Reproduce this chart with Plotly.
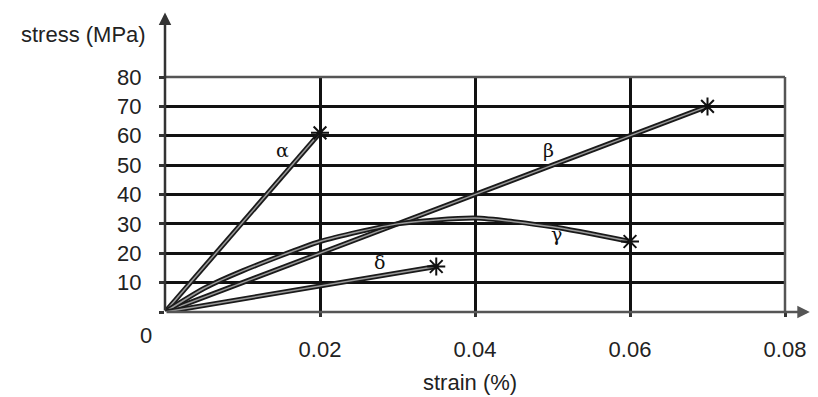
import plotly.graph_objects as go

# ---- data ----
alpha_strain = [0.0, 0.02]
alpha_stress = [0, 61]
beta_strain = [0.0, 0.02, 0.04, 0.06, 0.07]
beta_stress = [0, 20, 40, 60, 70]
gamma_strain = [0.0, 0.005, 0.01, 0.02, 0.03, 0.04, 0.05, 0.06]
gamma_stress = [0, 8, 14, 24, 30, 32, 29, 24]
delta_strain = [0.0, 0.02, 0.035]
delta_stress = [0, 8.8, 15.5]

series = [
    ("α", alpha_strain, alpha_stress, (0.0152, 55)),
    ("β", beta_strain, beta_stress, (0.0495, 55)),
    ("γ", gamma_strain, gamma_stress, (0.0505, 26.5)),
    ("δ", delta_strain, delta_stress, (0.0277, 17)),
]
x_ticks = [0.02, 0.04, 0.06, 0.08]
x_tick_labels = ["0.02", "0.04", "0.06", "0.08"]
y_ticks = [10, 20, 30, 40, 50, 60, 70, 80]
y_tick_labels = ["10", "20", "30", "40", "50", "60", "70", "80"]

fig = go.Figure()
for name, xs, ys, lab in series:
    shape = "spline" if name == "γ" else "linear"
    fig.add_trace(go.Scatter(x=xs, y=ys, mode="lines",
                             line=dict(color="#1a1a1a", width=5, shape=shape, smoothing=0.6),
                             showlegend=False, hoverinfo="skip"))
    fig.add_trace(go.Scatter(x=xs, y=ys, mode="lines",
                             line=dict(color="#9a9a9a", width=1.5, shape=shape, smoothing=0.6),
                             showlegend=False, hoverinfo="skip"))
    fig.add_trace(go.Scatter(x=[xs[-1]], y=[ys[-1]], mode="markers",
                             marker=dict(symbol="asterisk-open", size=15, color="#111",
                                         line=dict(color="#111", width=2)),
                             showlegend=False, hoverinfo="skip"))
    fig.add_annotation(x=lab[0], y=lab[1], text=name, showarrow=False,
                       font=dict(family="DejaVu Serif", size=19, color="#111"))

font = dict(family="Liberation Sans, Arial", size=22, color="#222")

fig.update_layout(
    width=818, height=397,
    margin=dict(l=165, r=28, t=77, b=85),
    paper_bgcolor="white", plot_bgcolor="white",
    font=font,
    xaxis=dict(range=[0, 0.08], tickvals=x_ticks, ticktext=x_tick_labels,
               showgrid=True, gridcolor="#111", gridwidth=3,
               zeroline=False, showline=False, ticks="outside", ticklen=18,
               tickwidth=1, tickcolor="rgba(0,0,0,0)",
               minor=dict(tickvals=x_ticks, ticks="outside", ticklen=4,
                          tickwidth=3, tickcolor="#333", showgrid=False),
               tickfont=font),
    yaxis=dict(range=[0, 80], tickvals=y_ticks, ticktext=y_tick_labels,
               showgrid=True, gridcolor="#111", gridwidth=3,
               zeroline=False, showline=False, ticks="outside", ticklen=18,
               tickwidth=1, tickcolor="rgba(0,0,0,0)",
               minor=dict(tickvals=[0] + y_ticks, ticks="outside", ticklen=5,
                          tickwidth=3, tickcolor="#333", showgrid=False),
               tickfont=font),
    shapes=[
        dict(type="line", xref="paper", yref="paper", x0=0, x1=1, y0=1, y1=1,
             line=dict(color="#555", width=2.5)),
        dict(type="line", xref="paper", yref="paper", x0=1, x1=1, y0=0, y1=1,
             line=dict(color="#555", width=2.5)),
    ],
)

# axis arrows
fig.add_annotation(x=0, y=102, ax=0, ay=0, xref="x", yref="y", axref="x", ayref="y",
                   text="", showarrow=True, arrowhead=2, arrowsize=1, arrowwidth=2.5,
                   arrowcolor="#333")
fig.add_annotation(x=0.0832, y=0, ax=0, ay=0, xref="x", yref="y", axref="x", ayref="y",
                   text="", showarrow=True, arrowhead=2, arrowsize=1, arrowwidth=2.5,
                   arrowcolor="#555")

# texts
def ptext(px, py, text):
    fig.add_annotation(x=(px - 165) / 625, y=(312 - py) / 235, xref="paper", yref="paper",
                       text=text, showarrow=False, font=font,
                       xanchor="center", yanchor="middle")

ptext(83, 34, "stress (MPa)")
ptext(146, 335, "0")
ptext(472, 382, "strain (%)")

fig.write_html("out.html")
